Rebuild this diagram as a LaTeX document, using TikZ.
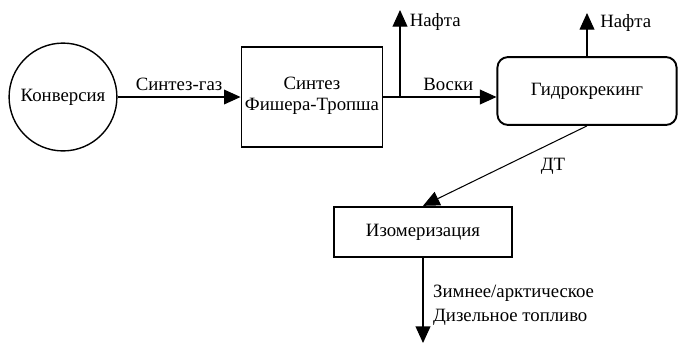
\documentclass[tikz,border=0pt]{standalone}
\usepackage{fontspec}
\setmainfont{Liberation Serif}
\usetikzlibrary{arrows.meta,positioning}

\begin{document}
\begin{tikzpicture}[x=0.575pt, y=-0.575pt,
	font=\fontsize{10.8}{14}\selectfont,
	stage/.style={draw, line width=1.1pt, align=center, inner sep=2pt},
	flow/.style={line width=0.6pt, -{Triangle[length=9.5pt,width=8.5pt]}},
	pipe/.style={line width=0.6pt}]
	\useasboundingbox (0,0) rectangle (679,353);
	% process stages
	\node[stage, circle, line width=0.8pt, minimum size=62pt] (konv) at (63,97) {Конверсия};
	\node[stage, minimum width=80.5pt, minimum height=57.5pt] (ft) at (312,97) {\raisebox{4pt}{\shortstack{Синтез\\[2pt]Фишера-Тропша}}};
	\node[stage, rounded corners=6pt, minimum width=103pt, minimum height=39pt] (hydro) at (587,91) {Гидрокрекинг};
	\node[stage, minimum width=102pt, minimum height=29pt] (isom) at (423,232) {Изомеризация};
	% free ends
	\coordinate (wax) at (400,97);
	\coordinate (naph1) at (400,10);
	\coordinate (naph2) at (hydro.north |- 0,13);
	\coordinate (diesel) at (isom.south |- 0,343);
	% streams
	\draw[flow] (konv) -- node[above] {Синтез-газ} (ft);
	\draw[pipe] (ft.east |- wax) -- (wax);
	\draw[flow] (wax) -- node[above] {Воски} (wax -| hydro.west);
	\draw[flow] (wax) -- (naph1) node[right, xshift=2pt, yshift=-7pt] {Нафта};
	\draw[flow] (hydro.north) -- (naph2) node[right, xshift=4pt, yshift=-6pt] {Нафта};
	\draw[flow] (hydro.south) -- node[pos=0.5, right=17pt] {ДТ} (isom.north);
	\draw[flow] (isom.south) -- (diesel);
	\node[right, align=left] at (427,305) {Зимнее/арктическое\\Дизельное топливо};
\end{tikzpicture}
\end{document}
